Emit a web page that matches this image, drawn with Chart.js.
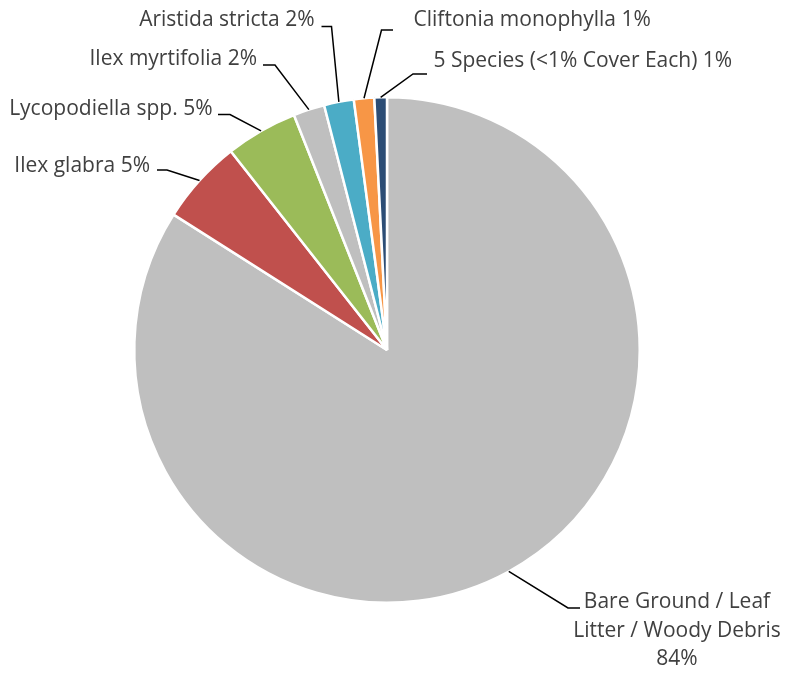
<!DOCTYPE html>
<html>
<head>
<meta charset="utf-8">
<script src="https://cdn.jsdelivr.net/npm/chart.js@4"></script>
<style>
  html, body { margin: 0; padding: 0; background: #ffffff; }
  #wrap { width: 787px; height: 673px; position: relative; }
</style>
</head>
<body>
<div id="wrap"><canvas id="coverChart"></canvas></div>
<script>
// ground cover by species, percent of plot
const categories = [
  ["Bare Ground / Leaf", "Litter / Woody Debris"],
  "Ilex glabra",
  "Lycopodiella spp.",
  "Ilex myrtifolia",
  "Aristida stricta",
  "Cliftonia monophylla",
  "5 Species (<1% Cover Each)",
];
const coverValues = [84.0, 5.4, 4.6, 2.0, 1.9, 1.3, 0.8];
const sliceColors = ["#BFBFBF", "#C0504D", "#9BBB59", "#BFBFBF", "#4BACC6", "#F79646", "#2C4D75"];

// where each callout sits: elbow of the leader, end of the leader, text anchor
const calloutLayout = [
  { elbow: [568, 608], end: [580, 608], textX: 677, baseY: 608, align: "center", lineGap: 28.5 },
  { elbow: [167, 170], end: [157, 170], textX: 150, baseY: 171.5, align: "right" },
  { elbow: [230, 114.5], end: [218, 114.5], textX: 212.5, baseY: 115, align: "right" },
  { elbow: [275, 65], end: [263, 65], textX: 257, baseY: 65, align: "right" },
  { elbow: [331.5, 26.5], end: [321.5, 26.5], textX: 314.5, baseY: 26, align: "right" },
  { elbow: [381.5, 30], end: [393, 30], textX: 413.5, baseY: 26, align: "left" },
  { elbow: [413, 74], end: [427, 74], textX: 433.5, baseY: 66.5, align: "left" },
];

const FONT = '21px "Open Sans", Lato, sans-serif';

const calloutPlugin = {
  id: "callouts",
  afterDatasetsDraw(chart) {
    const meta = chart.getDatasetMeta(0);
    const values = chart.data.datasets[0].data;
    const total = values.reduce((a, b) => a + b, 0);
    const ctx = chart.ctx;
    ctx.save();
    meta.data.forEach((arc, i) => {
      const lay = calloutLayout[i];
      if (!lay) return;
      const { x, y, startAngle, endAngle, outerRadius } = arc.getProps(
        ["x", "y", "startAngle", "endAngle", "outerRadius"],
        true
      );
      const mid = (startAngle + endAngle) / 2;
      const px = x + Math.cos(mid) * outerRadius;
      const py = y + Math.sin(mid) * outerRadius;

      ctx.beginPath();
      ctx.moveTo(px, py);
      ctx.lineTo(lay.elbow[0], lay.elbow[1]);
      ctx.lineTo(lay.end[0], lay.end[1]);
      ctx.strokeStyle = "#000000";
      ctx.lineWidth = 1.5;
      ctx.stroke();

      const pct = Math.round((values[i] / total) * 100) + "%";
      const name = chart.data.labels[i];
      const lines = Array.isArray(name) ? [...name, pct] : [name + " " + pct];
      ctx.font = FONT;
      ctx.fillStyle = "#404040";
      ctx.textAlign = lay.align;
      ctx.textBaseline = "alphabetic";
      lines.forEach((t, k) => {
        ctx.fillText(t, lay.textX, lay.baseY + k * (lay.lineGap || 0));
      });
    });
    ctx.restore();
  },
};

new Chart(document.getElementById("coverChart"), {
  type: "pie",
  data: {
    labels: categories,
    datasets: [
      {
        data: coverValues,
        backgroundColor: sliceColors,
        borderColor: "#ffffff",
        borderWidth: 2.5,
      },
    ],
  },
  options: {
    responsive: true,
    maintainAspectRatio: false,
    animation: false,
    layout: { padding: { left: 133, right: 146, top: 96, bottom: 69 } },
    plugins: {
      legend: { display: false },
      tooltip: { enabled: false },
    },
  },
  plugins: [calloutPlugin],
});
</script>
</body>
</html>
